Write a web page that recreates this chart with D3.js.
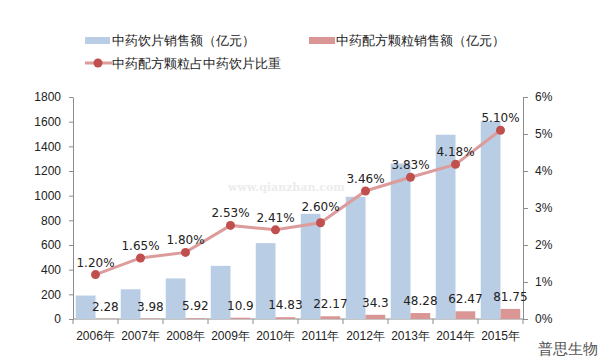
<!DOCTYPE html>
<html>
<head>
<meta charset="utf-8">
<script src="https://cdn.jsdelivr.net/npm/d3@7"></script>
<style>
  body { margin: 0; background: #fff; }
  svg { display: block; font-family: "DejaVu Sans", sans-serif; }
  .axis path, .axis line { stroke: #8c8c8c; }
  .axis text { fill: #222; font-size: 12px; }
</style>
</head>
<body>
<div id="chart"></div>
<script>
const years = ["2006年","2007年","2008年","2009年","2010年","2011年","2012年","2013年","2014年","2015年"];
const yinpian = [190, 241, 329, 431, 615, 853, 991, 1261, 1494, 1603];      // 中药饮片销售额
const peifang = [2.28, 3.98, 5.92, 10.9, 14.83, 22.17, 34.3, 48.28, 62.47, 81.75]; // 配方颗粒销售额
const share = [1.20, 1.65, 1.80, 2.53, 2.41, 2.60, 3.46, 3.83, 4.18, 5.10];   // 比重 %
const leftTicks = [0, 200, 400, 600, 800, 1000, 1200, 1400, 1600, 1800];
const rightTicks = [0, 1, 2, 3, 4, 5, 6];

const W = 606, H = 360;
const margin = { top: 97, right: 83, bottom: 41, left: 73 };
const width = W - margin.left - margin.right;
const height = H - margin.top - margin.bottom;

const blue = "#b9cde5", pink = "#d99694", lineCol = "#dc9c9b", dotCol = "#c0504d";

const svg = d3.select("#chart").append("svg")
    .attr("width", W)
    .attr("height", H);

const g = svg.append("g")
    .attr("transform", `translate(${margin.left},${margin.top})`);

const x = d3.scaleBand().domain(years).range([0, width]);
const inner = d3.scaleBand().domain(["a", "b"]).range([0, x.bandwidth()]).paddingOuter(0.14);
const yL = d3.scaleLinear().domain([0, 1800]).range([height, 0]);
const yR = d3.scaleLinear().domain([0, 6]).range([height, 0]);

// axes
const xAxis = g.append("g").attr("class", "axis")
    .attr("transform", `translate(0,${height})`)
    .call(d3.axisBottom(x).tickSize(0).tickPadding(12));
xAxis.select(".domain").attr("d", `M0,0H${width}`);
xAxis.selectAll(".sep")
    .data(d3.range(years.length + 1))
    .join("line")
    .attr("class", "sep")
    .attr("x1", i => i * x.step()).attr("x2", i => i * x.step())
    .attr("y1", 0).attr("y2", 5)
    .attr("stroke", "#8c8c8c");

g.append("g").attr("class", "axis")
    .call(d3.axisLeft(yL).tickValues(leftTicks).tickSize(4).tickPadding(8).tickSizeOuter(0)
        .tickFormat(d3.format("d")));

g.append("g").attr("class", "axis")
    .attr("transform", `translate(${width},0)`)
    .call(d3.axisRight(yR).tickValues(rightTicks).tickSize(5).tickPadding(7).tickSizeOuter(0)
        .tickFormat(d => d + "%"));

// bars
g.selectAll(".bar-a")
    .data(yinpian)
    .join("rect")
    .attr("class", "bar-a")
    .attr("x", (d, i) => x(years[i]) + inner("a"))
    .attr("width", inner.bandwidth())
    .attr("y", d => yL(d))
    .attr("height", d => height - yL(d))
    .attr("fill", blue);

g.selectAll(".bar-b")
    .data(peifang)
    .join("rect")
    .attr("class", "bar-b")
    .attr("x", (d, i) => x(years[i]) + inner("b"))
    .attr("width", inner.bandwidth())
    .attr("y", d => yL(d))
    .attr("height", d => height - yL(d))
    .attr("fill", pink);

g.selectAll(".lab-b")
    .data(peifang)
    .join("text")
    .attr("class", "lab-b")
    .attr("x", (d, i) => x(years[i]) + inner("b") + inner.bandwidth() / 2)
    .attr("y", d => yL(d) - 8)
    .attr("text-anchor", "middle")
    .attr("font-size", 12)
    .attr("fill", "#222")
    .text(d => d);

// faint watermark
g.append("text")
    .attr("x", 228 - margin.left).attr("y", 191 - margin.top)
    .attr("fill", "#ececec").attr("font-size", 11).attr("font-weight", "bold")
    .attr("font-family", "DejaVu Serif, serif")
    .text("www.qianzhan.com");

// line
const cx = i => x(years[i]) + x.bandwidth() / 2;
const line = d3.line().x((d, i) => cx(i)).y(d => yR(d));

g.append("path")
    .datum(share)
    .attr("d", line)
    .attr("fill", "none")
    .attr("stroke", lineCol)
    .attr("stroke-width", 3);

g.selectAll(".dot")
    .data(share)
    .join("circle")
    .attr("class", "dot")
    .attr("cx", (d, i) => cx(i))
    .attr("cy", d => yR(d))
    .attr("r", 4.5)
    .attr("fill", dotCol);

g.selectAll(".lab-s")
    .data(share)
    .join("text")
    .attr("class", "lab-s")
    .attr("x", (d, i) => cx(i))
    .attr("y", (d, i) => yR(d) - (i === 5 ? 12 : 8))
    .attr("text-anchor", "middle")
    .attr("font-size", 12)
    .attr("fill", "#222")
    .text(d => d.toFixed(2) + "%");

// legend
const leg = svg.append("g").attr("font-size", 12.5).attr("fill", "#222");
leg.append("rect").attr("x", 85).attr("y", 37).attr("width", 25).attr("height", 7).attr("fill", blue);
leg.append("text").attr("x", 112).attr("y", 45).text("中药饮片销售额（亿元）");
leg.append("rect").attr("x", 309).attr("y", 37).attr("width", 26).attr("height", 7).attr("fill", pink);
leg.append("text").attr("x", 336).attr("y", 45).text("中药配方颗粒销售额（亿元）");
leg.append("line").attr("x1", 85).attr("x2", 112).attr("y1", 63).attr("y2", 63)
    .attr("stroke", lineCol).attr("stroke-width", 3);
leg.append("circle").attr("cx", 98).attr("cy", 63).attr("r", 4.5).attr("fill", dotCol);
leg.append("text").attr("x", 112).attr("y", 68).text("中药配方颗粒占中药饮片比重");

// source
svg.append("text")
    .attr("x", 598).attr("y", 354)
    .attr("text-anchor", "end")
    .attr("font-size", 15)
    .attr("fill", "#555")
    .text("普思生物");
</script>
</body>
</html>
